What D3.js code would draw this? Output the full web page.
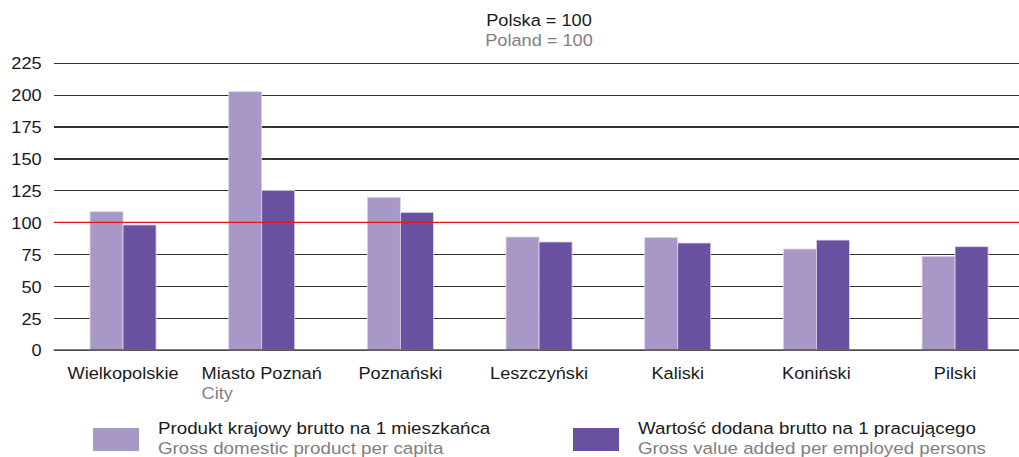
<!DOCTYPE html>
<html>
<head>
<meta charset="utf-8">
<script src="https://cdn.jsdelivr.net/npm/d3@7"></script>
<style>
  html, body { margin: 0; padding: 0; background: #fff; }
  svg { display: block; font-family: "Liberation Sans", Arial, sans-serif; }
</style>
</head>
<body>
<svg id="chart" width="1019" height="457"></svg>
<script>
const categories = ["Wielkopolskie", "Miasto Poznań", "Poznański", "Leszczyński", "Kaliski", "Koniński", "Pilski"];
const categorySubLabels = ["", "City", "", "", "", "", ""];
const gdpPerCapita = [108.3, 202.3, 119.6, 88.5, 88.2, 79.1, 73.4];
const gvaPerEmployed = [97.9, 125.0, 107.8, 84.6, 83.8, 86.1, 80.9];
const seriesKeys = ["gdp", "gva"];
const seriesNamesPl = ["Produkt krajowy brutto na 1 mieszkańca", "Wartość dodana brutto na 1 pracującego"];
const seriesNamesEn = ["Gross domestic product per capita", "Gross value added per employed persons"];
const seriesColors = ["#a898c8", "#6a51a0"];
const yTicks = [0, 25, 50, 75, 100, 125, 150, 175, 200, 225];
const referenceValue = 100;
const titlePl = "Polska = 100";
const titleEn = "Poland = 100";

const svg = d3.select("#chart");
const W = 1019, H = 457;
const mLeft = 53.7, mRight = 1024.4, mTop = 62.7, mBottom = 350;
const FS = 17, STRETCH = 1.07;

// horizontally stretch text around its anchor point
function stretch(sel, s) {
  sel.each(function() {
    const t = d3.select(this);
    const tx = +t.attr("x") || 0, ty = +t.attr("y") || 0;
    t.attr("x", 0).attr("y", 0)
     .attr("transform", `translate(${tx},${ty}) scale(${s},1)`);
  });
}

const x = d3.scaleBand().domain(categories).range([mLeft, mRight]).paddingInner(0).paddingOuter(0);
const xInner = d3.scaleBand().domain(seriesKeys).range([0, x.bandwidth()]).paddingInner(0).paddingOuter(1.1);
const y = d3.scaleLinear().domain([0, 225]).range([mBottom, mTop]);

// Title
const t1 = svg.append("text").attr("x", 539).attr("y", 26).attr("text-anchor", "middle")
  .attr("font-size", FS).attr("fill", "#1a1a1a").text(titlePl);
const t2 = svg.append("text").attr("x", 539).attr("y", 45.5).attr("text-anchor", "middle")
  .attr("font-size", FS).attr("fill", "#808080").text(titleEn);
stretch(t1, STRETCH); stretch(t2, STRETCH);

// Gridlines & y axis
const yAxis = d3.axisLeft(y).tickValues(yTicks).tickSize(-(W - mLeft)).tickPadding(12);
const gy = svg.append("g").attr("transform", `translate(${mLeft},0)`).call(yAxis);
gy.select(".domain").remove();
gy.selectAll(".tick line").attr("stroke", "#333").attr("stroke-width", 1.1)
  .attr("shape-rendering", "crispEdges");
gy.selectAll(".tick text").attr("font-size", FS).attr("fill", "#1a1a1a")
  .attr("font-family", "Liberation Sans, Arial, sans-serif").attr("dy", "0.35em");
stretch(gy.selectAll(".tick text"), STRETCH);

// Bars
const data = categories.map((c, i) => ({ cat: c, values: [
  { key: "gdp", v: gdpPerCapita[i], color: seriesColors[0] },
  { key: "gva", v: gvaPerEmployed[i], color: seriesColors[1] }
]}));
const groups = svg.append("g").selectAll("g").data(data).join("g")
  .attr("transform", d => `translate(${x(d.cat)},0)`);
groups.selectAll("rect").data(d => d.values).join("rect")
  .attr("x", d => xInner(d.key))
  .attr("width", xInner.bandwidth())
  .attr("y", d => y(d.v))
  .attr("height", d => y(0) - y(d.v))
  .attr("fill", d => d.color)
  .attr("stroke", "#ddd6ea").attr("stroke-width", 0.8);

// Reference line at 100
svg.append("line").attr("x1", mLeft).attr("x2", W)
  .attr("y1", y(referenceValue)).attr("y2", y(referenceValue))
  .attr("stroke", "#e8141c").attr("stroke-width", 1.3);

// Baseline
svg.append("line").attr("x1", mLeft).attr("x2", W).attr("y1", y(0)).attr("y2", y(0))
  .attr("stroke", "#555").attr("stroke-width", 1.5);

// Category labels
const xAxis = d3.axisBottom(x).tickSize(0).tickPadding(0);
const gx = svg.append("g").attr("transform", `translate(0,${mBottom})`).call(xAxis);
gx.select(".domain").remove();
gx.selectAll(".tick text").attr("font-size", FS).attr("fill", "#1a1a1a")
  .attr("font-family", "Liberation Sans, Arial, sans-serif")
  .attr("dy", null).attr("y", 29);
stretch(gx.selectAll(".tick text"), STRETCH);
gx.selectAll(".tick").each(function(d, i) {
  const sub = categorySubLabels[i];
  if (!sub) return;
  const t = d3.select(this).select("text");
  const w = t.node().getComputedTextLength() * STRETCH;
  const st = d3.select(this).append("text").attr("class", "sub").attr("x", -w / 2).attr("y", 49)
    .attr("text-anchor", "start").attr("font-size", FS).attr("fill", "#808080")
    .attr("font-family", "Liberation Sans, Arial, sans-serif").text(sub);
  stretch(st, STRETCH);
});

// Legend
const legendX = [93, 573];
seriesKeys.forEach((k, i) => {
  const g = svg.append("g").attr("transform", `translate(${legendX[i]},0)`);
  g.append("rect").attr("x", 0).attr("y", 428).attr("width", 46).attr("height", 23)
    .attr("fill", seriesColors[i]);
  const a = g.append("text").attr("x", 65).attr("y", 434).attr("font-size", 17.2).attr("fill", "#1a1a1a")
    .text(seriesNamesPl[i]);
  const b = g.append("text").attr("x", 65).attr("y", 454).attr("font-size", 17.2).attr("fill", "#808080")
    .text(seriesNamesEn[i]);
  stretch(a, 1.09); stretch(b, 1.09);
});
</script>
</body>
</html>
